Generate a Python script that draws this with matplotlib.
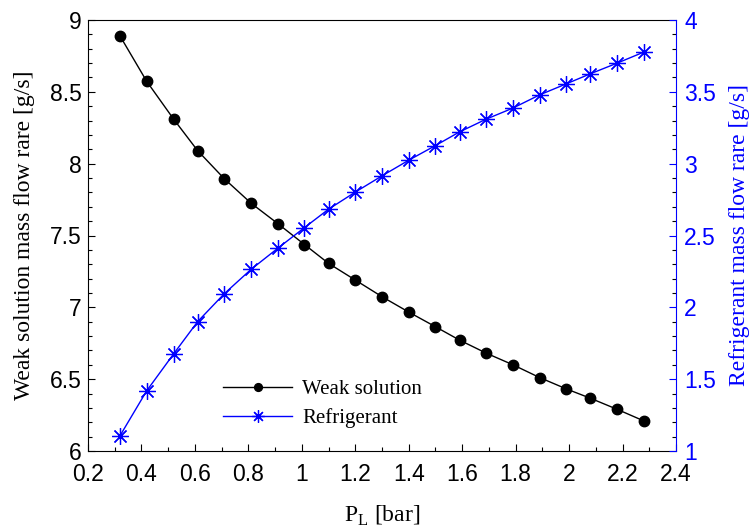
import numpy as np
import matplotlib
matplotlib.use('Agg')
import matplotlib.pyplot as plt
from matplotlib.ticker import MultipleLocator

p_low = [0.32, 0.42, 0.52, 0.61, 0.71, 0.81, 0.91, 1.01, 1.10, 1.20, 1.30,
         1.40, 1.50, 1.59, 1.69, 1.79, 1.89, 1.99, 2.08, 2.18, 2.28]
weak_flow = [8.888, 8.572, 8.311, 8.091, 7.895, 7.725, 7.583, 7.437, 7.306, 7.190, 7.074,
             6.967, 6.865, 6.772, 6.681, 6.600, 6.511, 6.432, 6.367, 6.290, 6.209]
refr_flow = [1.107, 1.420, 1.675, 1.900, 2.095, 2.264, 2.411, 2.555, 2.683, 2.802, 2.915,
             3.024, 3.126, 3.221, 3.310, 3.387, 3.479, 3.556, 3.626, 3.700, 3.777]

x_ticks = [0.2, 0.4, 0.6, 0.8, 1, 1.2, 1.4, 1.6, 1.8, 2, 2.2, 2.4]
left_ticks = [6, 6.5, 7, 7.5, 8, 8.5, 9]
right_ticks = [1, 1.5, 2, 2.5, 3, 3.5, 4]

sans = 'Liberation Sans'
serif = 'Liberation Serif'
blue = (0, 0, 1)

fig = plt.figure(figsize=(7.52, 5.30), dpi=100)
ax = fig.add_axes([88/752, 1-451/530, (676-88)/752, (451-20)/530])
ax2 = ax.twinx()

l1, = ax.plot(p_low, weak_flow, color='k', lw=1, marker='o', ms=7.5,
              label='Weak solution')
l2, = ax2.plot(p_low, refr_flow, color=blue, lw=1, marker=(8, 2, 0), ms=12,
               mew=0.9, label='Refrigerant')

ax.set_xticks(x_ticks)
ax.set_xticklabels([f'{v:g}' for v in x_ticks])
ax.set_yticks(left_ticks)
ax.set_yticklabels([f'{v:g}' for v in left_ticks])
ax2.set_yticks(right_ticks)
ax2.set_yticklabels([f'{v:g}' for v in right_ticks])
ax.xaxis.set_minor_locator(MultipleLocator(0.1))
ax.yaxis.set_minor_locator(MultipleLocator(0.1))
ax2.yaxis.set_minor_locator(MultipleLocator(0.1))

ax.set_xlim(0.2, 2.4)
ax.set_ylim(6, 9)
ax2.set_ylim(1, 4)

for a in (ax, ax2):
    a.tick_params(which='both', direction='in', top=False)
    a.tick_params(which='major', length=5, width=0.8)
    a.tick_params(which='minor', length=3, width=0.8)

ax.tick_params(axis='x', labelsize=16.5, pad=8.5)
ax.tick_params(axis='y', labelsize=16.5, pad=4.5)
for t in ax.get_xticklabels() + ax.get_yticklabels():
    t.set_family(sans)
ax2.tick_params(axis='y', labelsize=16.5, colors=blue, pad=6)
for t in ax2.get_yticklabels():
    t.set_family(sans)
ax2.spines['right'].set_color(blue)
ax.spines['right'].set_visible(False)
for s in ('left', 'bottom', 'top'):
    ax2.spines[s].set_visible(False)

ax.set_xlabel('P$_\\mathregular{L}$ [bar]', family=serif, fontsize=17, labelpad=13)
ax.set_ylabel('Weak solution mass flow rare [g/s]', family=serif, fontsize=17, labelpad=11)
ax2.set_ylabel('Refrigerant mass flow rare [g/s]', family=serif, fontsize=17,
               color=blue, labelpad=9)

leg = ax.legend(handles=[l1, l2], loc='upper left', bbox_to_anchor=(0.198, 0.21),
                frameon=False, prop={'family': serif, 'size': 15},
                handlelength=3.3, handletextpad=0.5, labelspacing=0.45,
                markerscale=0.75)

plt.savefig('out.png', dpi=100)
